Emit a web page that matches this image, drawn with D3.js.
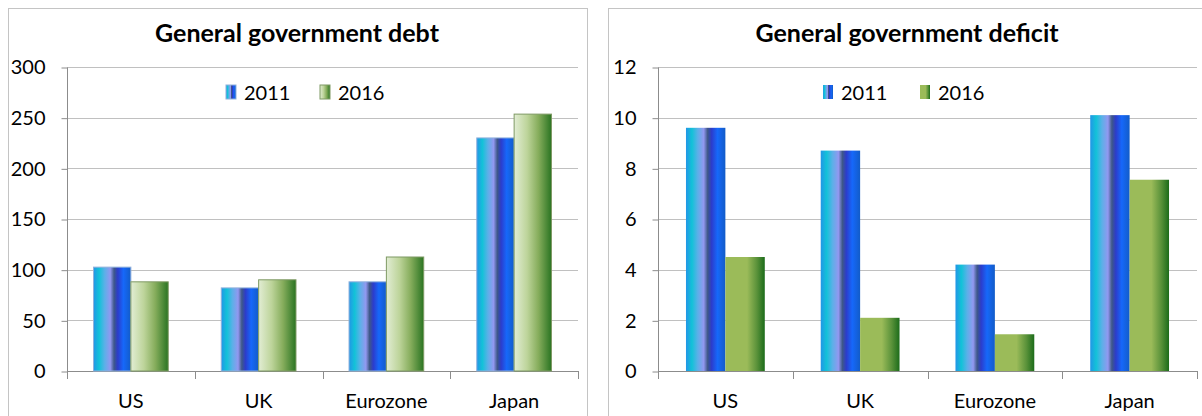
<!DOCTYPE html>
<html>
<head>
<meta charset="utf-8">
<script src="https://cdn.jsdelivr.net/npm/d3@7"></script>
<style>
  body { margin: 0; background: #fff; }
  svg text { font-family: Lato, "Open Sans", sans-serif; fill: #000; }
</style>
</head>
<body>
<div id="chart"></div>
<script>
// data
var categories = ["US", "UK", "Eurozone", "Japan"];
var seriesNames = ["2011", "2016"];
var debt2011 = [102.5, 82, 88, 230];
var debt2016 = [88, 90, 112.5, 253.5];
var deficit2011 = [9.6, 8.7, 4.2, 10.1];
var deficit2016 = [4.5, 2.1, 1.45, 7.55];
var debtTicks = [0, 50, 100, 150, 200, 250, 300];
var deficitTicks = [0, 2, 4, 6, 8, 10, 12];

var svg = d3.select("#chart").append("svg")
  .attr("width", 1202)
  .attr("height", 416);

var defs = svg.append("defs");

function addGradient(id, stops) {
  var g = defs.append("linearGradient").attr("id", id)
    .attr("x1", "0%").attr("x2", "100%").attr("y1", "0%").attr("y2", "0%");
  stops.forEach(function(s) {
    g.append("stop").attr("offset", s[0]).attr("stop-color", s[1]);
  });
}

var blueStops = [["0%", "#2296e6"], ["15%", "#12c2d8"], ["30%", "#5cb0e8"], ["45%", "#9298f0"],
  ["55%", "#3e5888"], ["65%", "#2c3ccc"], ["80%", "#1668fa"], ["100%", "#125cc8"]];
addGradient("blueA", blueStops);
addGradient("blueB", blueStops);
addGradient("greenA", [["0%", "#e2edd4"], ["35%", "#bdd49a"], ["65%", "#86ad5c"], ["100%", "#2a7422"]]);
addGradient("greenB", [["0%", "#9bbb59"], ["55%", "#9bbb59"], ["80%", "#5a923a"], ["100%", "#1c6c1a"]]);

function drawPanel(p) {
  var g = svg.append("g");

  // panel frame
  g.append("rect")
    .attr("x", p.frame[0] + 0.5).attr("y", 8.5)
    .attr("width", p.frame[1] - p.frame[0]).attr("height", 430)
    .attr("fill", "#fff").attr("stroke", "#c4c4c4");

  var x0 = d3.scaleBand().domain(categories).range([p.left, p.right]).paddingInner(0).paddingOuter(0);
  var x1 = d3.scaleBand().domain(seriesNames).range([0, x0.bandwidth()]).paddingInner(0).paddingOuter(p.pad);
  var y = d3.scaleLinear().domain([0, p.ticks[p.ticks.length - 1]]).range([371, 67]);

  // gridlines
  g.append("g").selectAll("line").data(p.ticks).enter().append("line")
    .attr("x1", p.left).attr("x2", p.right)
    .attr("y1", function(d) { return Math.round(y(d)) + 0.5; })
    .attr("y2", function(d) { return Math.round(y(d)) + 0.5; })
    .attr("stroke", "#c0c0c0").attr("stroke-width", 1.2);

  // y axis
  var yAxis = g.append("g")
    .attr("transform", "translate(" + (p.left + 0.5) + ",0.5)")
    .call(d3.axisLeft(y).tickValues(p.ticks).tickSize(6).tickPadding(16));
  yAxis.select(".domain").attr("stroke", "#8c8c8c").attr("d", "M0,67V371");
  yAxis.selectAll(".tick line").attr("stroke", "#8c8c8c");
  yAxis.selectAll("text").style("font-size", "20px").attr("fill", "#000");

  // x axis
  var xAxis = g.append("g")
    .attr("transform", "translate(0," + (371.5) + ")")
    .call(d3.axisBottom(x0).tickSize(0).tickPadding(22));
  xAxis.select(".domain").attr("stroke", "#8c8c8c").attr("d", "M" + p.left + ",0H" + p.right);
  xAxis.selectAll("text").style("font-size", "20px").attr("fill", "#000");
  g.append("g").selectAll("line")
    .data(categories.concat(["_end"])).enter().append("line")
    .attr("x1", function(d, i) { return Math.round(p.left + i * x0.bandwidth()) + 0.5; })
    .attr("x2", function(d, i) { return Math.round(p.left + i * x0.bandwidth()) + 0.5; })
    .attr("y1", 371).attr("y2", 379)
    .attr("stroke", "#8c8c8c");

  // bars
  var groups = g.append("g").selectAll("g").data(categories).enter().append("g")
    .attr("transform", function(d) { return "translate(" + x0(d) + ",0)"; });
  groups.append("rect")
    .attr("x", x1("2011"))
    .attr("y", function(d, i) { return y(p.a[i]); })
    .attr("width", x1.bandwidth())
    .attr("height", function(d, i) { return 371 - y(p.a[i]); })
    .attr("fill", "url(#" + p.fillA + ")")
    .attr("stroke", p.strokeA).attr("stroke-width", 1);
  groups.append("rect")
    .attr("x", x1("2016"))
    .attr("y", function(d, i) { return y(p.b[i]); })
    .attr("width", x1.bandwidth())
    .attr("height", function(d, i) { return 371 - y(p.b[i]); })
    .attr("fill", "url(#" + p.fillB + ")")
    .attr("stroke", p.strokeB).attr("stroke-width", 1);

  // title
  g.append("text")
    .attr("x", p.titleX).attr("y", 42)
    .attr("text-anchor", "middle")
    .style("font-size", "25px").style("font-weight", "bold")
    .text(p.title);

  // legend
  var leg = g.append("g").selectAll("g").data(seriesNames).enter().append("g")
    .attr("transform", function(d, i) { return "translate(" + p.legendX[i] + ",85)"; });
  leg.append("rect")
    .attr("width", 10).attr("height", 14)
    .attr("fill", function(d, i) { return "url(#" + (i === 0 ? p.fillA : p.fillB) + ")"; })
    .attr("stroke", function(d, i) { return i === 0 ? p.strokeA : p.strokeB; });
  leg.append("text")
    .attr("x", 18).attr("y", 15)
    .style("font-size", "20px")
    .text(function(d) { return d; });
}

drawPanel({
  title: "General government debt", titleX: 297,
  frame: [8, 587], left: 67, right: 578,
  ticks: debtTicks, a: debt2011, b: debt2016, pad: 0.71,
  fillA: "blueA", fillB: "greenA", strokeA: "#8fb0dc", strokeB: "#7f9a64",
  legendX: [226, 320]
});

drawPanel({
  title: "General government deficit", titleX: 907,
  frame: [608, 1215], left: 658, right: 1197,
  ticks: deficitTicks, a: deficit2011, b: deficit2016, pad: 0.71,
  fillA: "blueB", fillB: "greenB", strokeA: "none", strokeB: "none",
  legendX: [823, 920]
});
</script>
</body>
</html>
